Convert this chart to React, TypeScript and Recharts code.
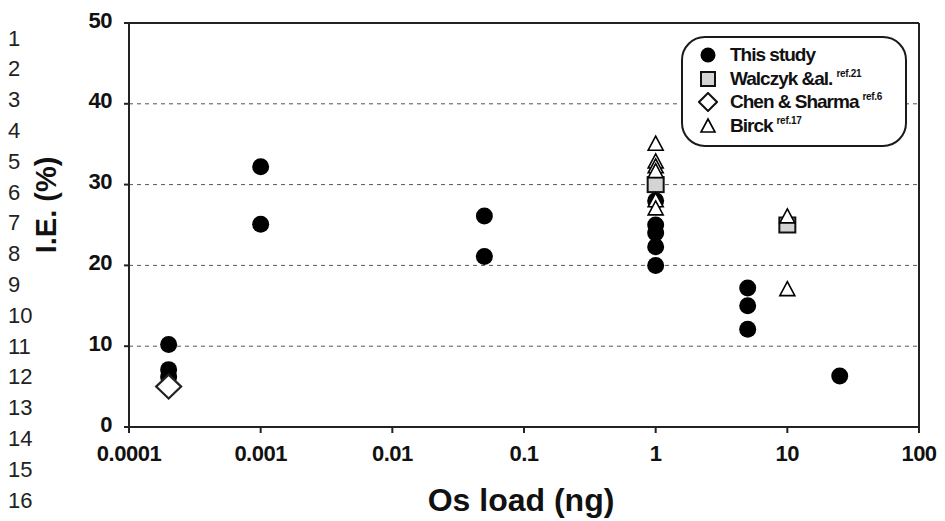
import React from "react";
import {
  ScatterChart,
  Scatter,
  XAxis,
  YAxis,
  CartesianGrid,
  ReferenceLine,
  Legend,
  Label,
} from "recharts";

// I.E. (%) vs Os load (ng)
const thisStudy = [
  { x: 0.0002, y: 10.2 },
  { x: 0.0002, y: 7.1 },
  { x: 0.0002, y: 6.2 },
  { x: 0.001, y: 32.2 },
  { x: 0.001, y: 25.1 },
  { x: 0.05, y: 26.1 },
  { x: 0.05, y: 21.1 },
  { x: 1, y: 28 },
  { x: 1, y: 25 },
  { x: 1, y: 24 },
  { x: 1, y: 22.3 },
  { x: 1, y: 20 },
  { x: 5, y: 17.2 },
  { x: 5, y: 15 },
  { x: 5, y: 12.1 },
  { x: 25, y: 6.3 },
]

const walczyk = [
  { x: 1, y: 30 },
  { x: 10, y: 25 },
]

const chenSharma = [{ x: 0.0002, y: 5 }]

const birck = [
  { x: 1, y: 35 },
  { x: 1, y: 32.8 },
  { x: 1, y: 32.2 },
  { x: 1, y: 31.6 },
  { x: 1, y: 28 },
  { x: 1, y: 27 },
  { x: 10, y: 26 },
  { x: 10, y: 17 },
]

const xTicks = [0.0001, 0.001, 0.01, 0.1, 1, 10, 100]
const xTickLabels = ["0.0001", "0.001", "0.01", "0.1", "1", "10", "100"]
const yTicks = [0, 10, 20, 30, 40, 50]

const legendItems = [
  { name: "This study", note: "", shape: "circle" },
  { name: "Walczyk &al.", note: "ref.21", shape: "square" },
  { name: "Chen & Sharma", note: "ref.6", shape: "diamond" },
  { name: "Birck", note: "ref.17", shape: "triangle" },
]

const lineNumbers = ["1", "2", "3", "4", "5", "6", "7", "8", "9", "10", "11", "12", "13", "14", "15", "16", "17"]

const FONT = '"Liberation Sans", Arial, sans-serif'

const Dot = (p: any) => <circle cx={p.cx} cy={p.cy} r={8.5} fill="#000" />

const Square = (p: any) => (
  <rect x={p.cx - 8} y={p.cy - 7.5} width={16} height={15} fill="#d4d4d4" stroke="#111" strokeWidth={2} />
)

const Diamond = (p: any) => (
  <polygon
    points={`${p.cx},${p.cy - 12} ${p.cx + 12.5},${p.cy} ${p.cx},${p.cy + 12} ${p.cx - 12.5},${p.cy}`}
    fill="#fff"
    stroke="#222"
    strokeWidth={2.2}
  />
)

const Triangle = (p: any) => (
  <polygon
    points={`${p.cx},${p.cy - 8} ${p.cx + 7.5},${p.cy + 6} ${p.cx - 7.5},${p.cy + 6}`}
    fill="#fff"
    stroke="#000"
    strokeWidth={1.6}
  />
)

function legendMarker(shape: string) {
  const c = 10
  if (shape === "circle") return <circle cx={c} cy={c} r={7.5} fill="#000" />
  if (shape === "square")
    return <rect x={c - 7} y={c - 7} width={14} height={14} fill="#d4d4d4" stroke="#111" strokeWidth={2} />
  if (shape === "diamond")
    return (
      <polygon points={`${c},${c - 9} ${c + 9},${c} ${c},${c + 9} ${c - 9},${c}`} fill="#fff" stroke="#111" strokeWidth={2} />
    )
  return <polygon points={`${c},${c - 7} ${c + 7},${c + 6} ${c - 7},${c + 6}`} fill="#fff" stroke="#000" strokeWidth={1.6} />
}

const renderLegend = () => (
  <div
    style={{
      position: "relative",
      width: 226,
      height: 111,
      boxSizing: "border-box",
      border: "2px solid #1a1a1a",
      borderRadius: 24,
      background: "#fff",
      fontFamily: FONT,
    }}
  >
    {legendItems.map((item, i) => (
      <div
        key={item.name}
        style={{ position: "absolute", left: 0, top: 17 + i * 23.6 - 12, height: 24, display: "flex", alignItems: "center" }}
      >
        <svg width={20} height={20} style={{ marginLeft: 15 }}>
          {legendMarker(item.shape)}
        </svg>
        <span style={{ marginLeft: 12, fontSize: 19, fontWeight: 700, letterSpacing: -1, color: "#111", whiteSpace: "nowrap" }}>
          {item.name}
          {item.note && (
            <span style={{ fontSize: 10, letterSpacing: -0.3, position: "relative", top: -8, marginLeft: 4 }}>{item.note}</span>
          )}
        </span>
      </div>
    ))}
  </div>
)

const XTick = (p: any) => {
  const i = xTicks.indexOf(p.payload.value)
  return (
    <text x={p.x} y={453} textAnchor="middle" dominantBaseline="central" fontFamily={FONT} fontWeight={700} fontSize={22} letterSpacing={-0.5} fill="#111">
      {xTickLabels[i]}
    </text>
  )
}

const YTick = (p: any) => (
  <text x={112} y={p.y - 3} textAnchor="end" dominantBaseline="central" fontFamily={FONT} fontWeight={700} fontSize={22} letterSpacing={-0.5} fill="#111">
    {p.payload.value}
  </text>
)

export default function App() {
  return (
    <div style={{ position: "absolute", left: 0, top: 0, width: 945, height: 521, background: "#fff" }}>
      <ScatterChart width={945} height={521} margin={{ top: 23, right: 26, bottom: 0, left: 0 }}>
        <CartesianGrid vertical={false} stroke="#555" strokeDasharray="4 4" strokeWidth={1} />
        <XAxis
          type="number"
          dataKey="x"
          scale="log"
          domain={[0.0001, 100]}
          ticks={xTicks}
          allowDataOverflow
          height={94}
          tickSize={6}
          tick={XTick}
          axisLine={{ stroke: "#222", strokeWidth: 2 }}
          tickLine={{ stroke: "#222", strokeWidth: 2 }}
        >
          <Label
            content={() => (
              <text x={521} y={500} textAnchor="middle" dominantBaseline="central" fontFamily={FONT} fontWeight={700} fontSize={32} fill="#111">
                Os load (ng)
              </text>
            )}
          />
        </XAxis>
        <YAxis
          type="number"
          dataKey="y"
          domain={[0, 50]}
          ticks={yTicks}
          width={129}
          tickSize={5}
          tick={YTick}
          axisLine={{ stroke: "#222", strokeWidth: 2 }}
          tickLine={{ stroke: "#222", strokeWidth: 2 }}
        >
          <Label
            content={() => (
              <text
                x={46}
                y={205}
                transform="rotate(-90 46 205)"
                textAnchor="middle"
                dominantBaseline="central"
                fontFamily={FONT}
                fontWeight={700}
                fontSize={29}
                fill="#111"
              >
                I.E. (%)
              </text>
            )}
          />
        </YAxis>
        <ReferenceLine y={50} stroke="#222" strokeWidth={2} />
        <ReferenceLine x={100} stroke="#222" strokeWidth={2} />
        <Legend
          layout="vertical"
          align="center"
          verticalAlign="middle"
          content={renderLegend}
          wrapperStyle={{ position: "absolute", left: 681, top: 36, width: 226, height: 111 }}
        />
        <Scatter name="This study" data={thisStudy} shape={Dot} isAnimationActive={false} />
        <Scatter name="Chen & Sharma" data={chenSharma} shape={Diamond} isAnimationActive={false} />
        <Scatter name="Walczyk &al." data={walczyk} shape={Square} isAnimationActive={false} />
        <Scatter name="Birck" data={birck} shape={Triangle} isAnimationActive={false} />
      </ScatterChart>
      <svg width={40} height={521} style={{ position: "absolute", left: 0, top: 0, pointerEvents: "none" }}>
        {lineNumbers.map((n, i) => (
          <text key={n} x={8} y={38 + i * 30.8} dominantBaseline="central" fontFamily={FONT} fontSize={22} fill="#222">
            {n}
          </text>
        ))}
      </svg>
    </div>
  )
}
